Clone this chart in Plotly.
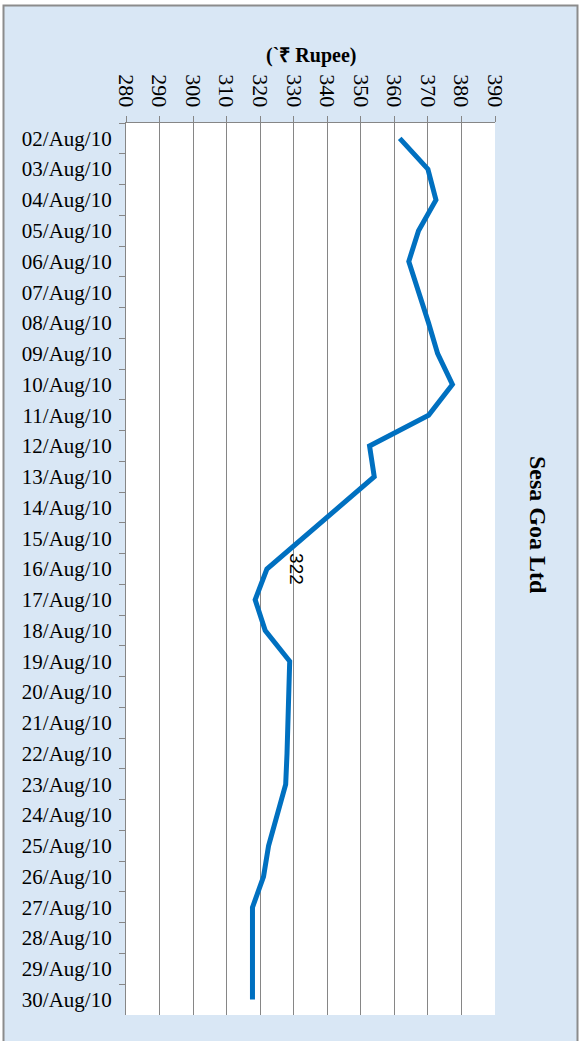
import plotly.graph_objects as go

dates = ["02/Aug/10", "03/Aug/10", "04/Aug/10", "05/Aug/10", "06/Aug/10", "07/Aug/10",
         "08/Aug/10", "09/Aug/10", "10/Aug/10", "11/Aug/10", "12/Aug/10", "13/Aug/10",
         "14/Aug/10", "15/Aug/10", "16/Aug/10", "17/Aug/10", "18/Aug/10", "19/Aug/10",
         "20/Aug/10", "21/Aug/10", "22/Aug/10", "23/Aug/10", "24/Aug/10", "25/Aug/10",
         "26/Aug/10", "27/Aug/10", "28/Aug/10", "29/Aug/10", "30/Aug/10"]
prices = [361.6, 370.0, 372.4, 367.2, 364.3, 367.3, 370.2, 372.9, 377.3, 370.2,
          352.6, 354.0, 343.4, 332.7, 322.0, 318.5, 321.5, 328.8, 328.6, 328.3,
          328.0, 327.6, 325.0, 322.5, 321.0, 317.7, 317.7, 317.7, 317.7]
x_ticks = [280, 290, 300, 310, 320, 330, 340, 350, 360, 370, 380, 390]
label_date = "16/Aug/10"
chart_title = "Sesa Goa Ltd"
axis_title = "(`₹ Rupee)"

W, H = 579, 1041
ML, MR, MT, MB = 126, 84, 123, 26
PW, PH = W - ML - MR, H - MT - MB


def px_x(p):
    return (p - ML) / PW


def px_y(p):
    return (H - MB - p) / PH


GRID = "#868686"
SERIF = "Liberation Serif, Times New Roman, serif"

fig = go.Figure()
fig.add_trace(go.Scatter(
    x=prices, y=dates, mode="lines",
    line=dict(color="#0070C0", width=5),
    hoverinfo="skip", showlegend=False,
))

li = dates.index(label_date)
fig.add_annotation(
    x=prices[li], y=dates[li], xref="x", yref="y",
    text=str(round(prices[li])), showarrow=False, textangle=90,
    xshift=30, font=dict(family="Liberation Sans, Arial, sans-serif", size=19, color="#000"),
)
fig.add_annotation(
    x=px_x(538), y=px_y(525), xref="paper", yref="paper",
    text="<b>" + chart_title + "</b>", showarrow=False, textangle=90,
    xanchor="center", yanchor="middle",
    font=dict(family=SERIF, size=24, color="#000"),
)
fig.add_annotation(
    x=0.5, y=px_y(55), xref="paper", yref="paper",
    text="<b>" + axis_title + "</b>", showarrow=False,
    xanchor="center", yanchor="middle",
    font=dict(family=SERIF, size=20, color="#000"),
)

shapes = [
    dict(type="rect", xref="paper", yref="paper", layer="below",
         x0=px_x(3.5), x1=px_x(577.5), y0=px_y(H + 10), y1=px_y(5.5),
         fillcolor="#d9e7f5", line=dict(color="#8c8c8c", width=2)),
    dict(type="rect", xref="paper", yref="paper", layer="below",
         x0=0, x1=1, y0=0, y1=1, fillcolor="#ffffff", line=dict(width=0)),
]

fig.update_layout(
    width=W, height=H,
    margin=dict(l=ML, r=MR, t=MT, b=MB, pad=0),
    paper_bgcolor="#ffffff", plot_bgcolor="#ffffff",
    shapes=shapes,
    xaxis=dict(
        side="top", range=[280, 390], tickvals=x_ticks,
        showgrid=True, gridcolor=GRID, gridwidth=1.3, zeroline=False,
        showline=True, linecolor=GRID, linewidth=1.3,
        ticks="outside", ticklen=6, tickcolor=GRID, tickwidth=1.3,
        tickangle=90, tickfont=dict(family=SERIF, size=22, color="#000"),
        ticklabelstandoff=1,
        fixedrange=True,
    ),
    yaxis=dict(
        type="category", categoryorder="array", categoryarray=dates,
        range=[len(dates) - 0.5, -0.5], tickson="boundaries",
        showgrid=False, zeroline=False,
        showline=True, linecolor=GRID, linewidth=1.3,
        ticks="outside", ticklen=6, tickcolor=GRID, tickwidth=1.3,
        tickfont=dict(family=SERIF, size=21, color="#000"),
        ticklabelstandoff=9,
        fixedrange=True,
    ),
)

fig.write_html("out.html")
